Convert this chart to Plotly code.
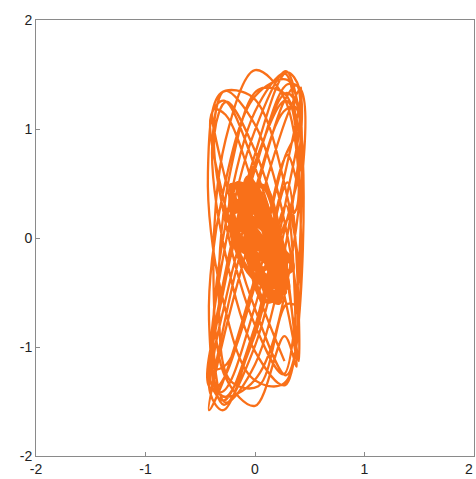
import plotly.graph_objects as go

# Outer orbit samples (x, y), one row per revolution.
orbit_x = [
    0.40, 0.283, 0.00, -0.283, -0.40, -0.283, 0.00, 0.283,
    0.42, 0.297, 0.00, -0.297, -0.42, -0.297, 0.00, 0.297,
    0.42, 0.297, 0.00, -0.297, -0.42, -0.297, 0.00, 0.297,
    0.40, 0.283, 0.00, -0.283, -0.40, -0.283, 0.00, 0.283,
    0.39, 0.276, 0.00, -0.276, -0.39, -0.276, 0.00, 0.276,
    0.37, 0.262, 0.00, -0.262, -0.37, -0.262, 0.00, 0.262,
    0.42, 0.297, 0.00, -0.297, -0.42, -0.297, 0.00, 0.297,
    0.39, 0.285, 0.03, -0.225, -0.33, -0.225, 0.03, 0.285,
    0.39, 0.270, -0.02, -0.310, -0.43, -0.310, -0.02, 0.270,
    0.38, 0.269, 0.00, -0.269, -0.38, -0.269, 0.00, 0.269,
    0.41, 0.290, 0.00, -0.290, -0.41, -0.290, 0.00, 0.290,
    0.40, 0.283, 0.00, -0.283, -0.40, -0.283, 0.00, 0.283,
    0.37, 0.262, 0.00, -0.262, -0.37, -0.262, 0.00, 0.262,
    0.38, 0.269, 0.00, -0.269, -0.38, -0.269, 0.00, 0.269,
    0.39, 0.276, 0.00, -0.276, -0.39, -0.276, 0.00, 0.276,
    0.38, 0.269, 0.00, -0.269, -0.38, -0.269, 0.00, 0.269,
    0.38, 0.269, 0.00, -0.269, -0.38, -0.269, 0.00, 0.269,
]
orbit_y = [
    1.18, 1.53, 0.99, -0.13, -1.18, -1.53, -0.99, 0.13,
    0.75, 1.45, 1.30, 0.39, -0.75, -1.45, -1.30, -0.39,
    1.36, 1.41, 0.63, -0.51, -1.36, -1.41, -0.63, 0.51,
    -1.13, -0.34, 0.65, 1.26, 1.13, 0.34, -0.65, -1.26,
    -0.87, 0.12, 1.04, 1.35, 0.87, -0.12, -1.04, -1.35,
    1.20, 1.16, 0.44, -0.54, -1.20, -1.16, -0.44, 0.54,
    1.38, 1.13, 0.16, -0.96, -1.58, -1.33, -0.36, 0.76,
    0.50, 1.31, 1.36, 0.61, -0.50, -1.31, -1.36, -0.61,
    -0.60, 0.49, 1.29, 1.33, 0.60, -0.49, -1.29, -1.33,
    0.98, 1.51, 1.16, 0.13, -0.98, -1.51, -1.16, -0.13,
    1.36, 1.52, 0.77, -0.44, -1.42, -1.58, -0.83, 0.38,
    1.18, 1.33, 0.65, -0.46, -1.34, -1.49, -0.81, 0.30,
    -0.96, -0.11, 0.80, 1.25, 0.96, 0.11, -0.80, -1.25,
    1.40, 1.26, 0.38, -0.73, -1.40, -1.26, -0.38, 0.73,
    1.03, 1.26, 0.69, -0.34, -1.23, -1.46, -0.89, 0.14,
    0.27, 1.28, 1.54, 0.90, -0.27, -1.28, -1.54, -0.90,
    -1.18, -0.53, 0.43, 1.13, 1.18, 0.53, -0.43, -1.13,
]

# Inner orbit samples around the origin, one row per revolution.
core_x = [
    0.23, 0.177, 0.05, -0.077, -0.13, -0.077, 0.05, 0.177,
    0.28, 0.207, 0.03, -0.147, -0.22, -0.147, 0.03, 0.207,
    0.14, 0.105, 0.02, -0.065, -0.10, -0.065, 0.02, 0.105,
    0.34, 0.252, 0.04, -0.172, -0.26, -0.172, 0.04, 0.252,
    0.24, 0.193, 0.08, -0.033, -0.08, -0.033, 0.08, 0.193,
    0.18, 0.121, -0.02, -0.161, -0.22, -0.161, -0.02, 0.121,
    0.26, 0.219, 0.12, 0.021, -0.02, 0.021, 0.12, 0.219,
    0.22, 0.156, 0.00, -0.156, -0.22, -0.156, 0.00, 0.156,
    0.10, 0.071, 0.00, -0.071, -0.10, -0.071, 0.00, 0.071,
    0.24, 0.205, 0.12, 0.035, 0.00, 0.035, 0.12, 0.205,
    0.25, 0.191, 0.05, -0.091, -0.15, -0.091, 0.05, 0.191,
    0.18, 0.136, 0.03, -0.076, -0.12, -0.076, 0.03, 0.136,
    0.24, 0.196, 0.09, -0.016, -0.06, -0.016, 0.09, 0.196,
    0.16, 0.131, 0.06, -0.011, -0.04, -0.011, 0.06, 0.131,
    0.32, 0.238, 0.04, -0.158, -0.24, -0.158, 0.04, 0.238,
    0.09, 0.055, -0.03, -0.115, -0.15, -0.115, -0.03, 0.055,
    0.30, 0.271, 0.20, 0.129, 0.10, 0.129, 0.20, 0.271,
    0.02, -0.015, -0.10, -0.185, -0.22, -0.185, -0.10, -0.015,
]
core_y = [
    -0.38, -0.04, 0.32, 0.50, 0.38, 0.04, -0.32, -0.50,
    -0.25, 0.05, 0.30, 0.34, 0.15, -0.15, -0.40, -0.44,
    -0.19, 0.14, 0.44, 0.55, 0.39, 0.06, -0.24, -0.35,
    -0.28, -0.10, 0.13, 0.27, 0.24, 0.06, -0.17, -0.31,
    -0.24, 0.18, 0.47, 0.45, 0.14, -0.28, -0.57, -0.55,
    -0.18, 0.00, 0.27, 0.47, 0.48, 0.30, 0.03, -0.17,
    -0.43, -0.13, 0.13, 0.19, 0.03, -0.27, -0.53, -0.59,
    -0.27, 0.05, 0.37, 0.50, 0.37, 0.05, -0.27, -0.40,
    0.20, 0.352, 0.473, 0.493, 0.40, 0.248, 0.127, 0.107,
    -0.477, -0.30, -0.123, -0.05, -0.123, -0.30, -0.477, -0.55,
    -0.173, -0.052, 0.10, 0.193, 0.173, 0.052, -0.10, -0.193,
    -0.08, 0.124, 0.343, 0.449, 0.38, 0.176, -0.043, -0.149,
    -0.343, -0.124, 0.08, 0.149, 0.043, -0.176, -0.38, -0.449,
    -0.07, 0.198, 0.379, 0.367, 0.17, -0.098, -0.279, -0.267,
    -0.191, -0.113, 0.001, 0.086, 0.091, 0.013, -0.101, -0.186,
    0.034, 0.185, 0.375, 0.492, 0.467, 0.315, 0.125, 0.009,
    -0.453, -0.317, -0.171, -0.101, -0.147, -0.283, -0.429, -0.499,
    -0.05, 0.102, 0.223, 0.243, 0.15, -0.002, -0.123, -0.143,
]

tick_vals = [-2, -1, 0, 1, 2]
tick_text = ["-2", "-1", "0", "1", "2"]

line_color = "#F97019"
label_font = dict(family="Liberation Sans, Arial, sans-serif", size=14, color="#222222")

fig = go.Figure()
fig.add_trace(go.Scatter(
    x=orbit_x, y=orbit_y, mode="lines",
    line=dict(color=line_color, width=2.3, shape="spline", smoothing=1.0),
    hoverinfo="skip",
))
fig.add_trace(go.Scatter(
    x=core_x, y=core_y, mode="lines",
    line=dict(color=line_color, width=5.0, shape="spline", smoothing=1.0),
    hoverinfo="skip",
))

axis_style = dict(
    range=[-2, 2],
    tickmode="array",
    tickvals=tick_vals,
    ticktext=tick_text,
    ticks="inside",
    ticklen=4,
    tickcolor="#8a8a8a",
    showline=True,
    linecolor="#8a8a8a",
    linewidth=1,
    mirror=True,
    showgrid=False,
    zeroline=False,
    tickfont=label_font,
)

fig.update_layout(
    width=476,
    height=479,
    margin=dict(l=36, r=2, t=20, b=23),
    paper_bgcolor="white",
    plot_bgcolor="white",
    showlegend=False,
    xaxis=axis_style,
    yaxis=axis_style,
)

# The last x tick label sits on the figure's right edge.
fig.add_annotation(
    x=tick_vals[-1], y=0, xref="x", yref="paper",
    text=tick_text[-1], showarrow=False,
    xanchor="right", yanchor="top", yshift=-3, xshift=1,
    font=label_font,
)

fig.write_html("out.html")
